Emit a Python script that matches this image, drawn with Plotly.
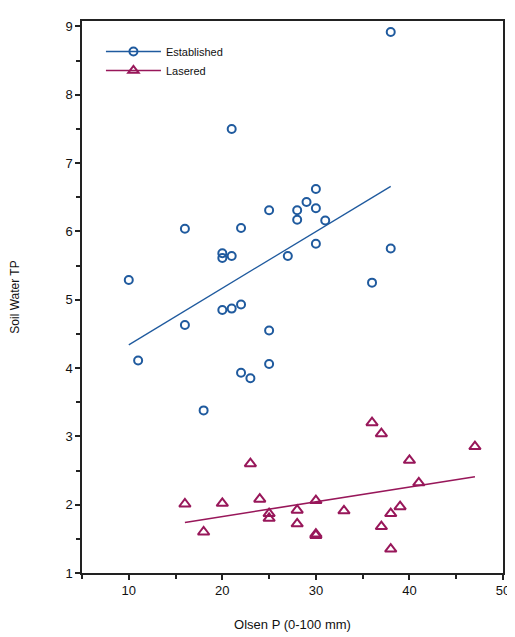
import plotly.graph_objects as go

# ---- data ----
est_x = [10, 11, 16, 16, 18, 20, 20, 20, 21, 21, 21, 22, 22, 22, 23,
         25, 25, 25, 27, 28, 28, 29, 30, 30, 30, 31, 36, 38, 38]
est_y = [5.29, 4.11, 6.04, 4.63, 3.38, 5.68, 5.61, 4.85, 7.50, 5.64, 4.87, 6.05, 4.93, 3.93, 3.85,
         6.31, 4.55, 4.06, 5.64, 6.31, 6.17, 6.43, 6.62, 6.34, 5.82, 6.16, 5.25, 8.92, 5.75]

las_x = [16, 18, 20, 23, 24, 25, 25, 28, 28, 30, 30, 30, 33, 36, 37, 37, 38, 38, 39, 40, 41, 47]
las_y = [2.01, 1.60, 2.02, 2.60, 2.08, 1.87, 1.80, 1.92, 1.72, 2.06, 1.57, 1.55, 1.91, 3.20,
         3.04, 1.68, 1.87, 1.35, 1.97, 2.65, 2.32, 2.85]

# fitted regression lines (end points)
fit_est_x = [10, 38]
fit_est_y = [4.34, 6.66]
fit_las_x = [16, 47]
fit_las_y = [1.74, 2.41]

series_names = ["Established", "Lasered"]
x_ticks = [10, 20, 30, 40, 50]
y_ticks = [1, 2, 3, 4, 5, 6, 7, 8, 9]

BLUE = "#1f5a9e"
RED = "#98175a"
FONT = "Liberation Sans, Arial, sans-serif"

fig = go.Figure()

# regression lines
fig.add_trace(go.Scatter(x=fit_est_x, y=fit_est_y, mode="lines",
                         line=dict(color=BLUE, width=1.3), showlegend=False, hoverinfo="skip"))
fig.add_trace(go.Scatter(x=fit_las_x, y=fit_las_y, mode="lines",
                         line=dict(color=RED, width=1.6), showlegend=False, hoverinfo="skip"))

# points
fig.add_trace(go.Scatter(x=est_x, y=est_y, mode="markers", showlegend=False,
                         marker=dict(symbol="circle-open", size=8, color=BLUE,
                                     line=dict(width=2, color=BLUE))))
fig.add_trace(go.Scatter(x=las_x, y=las_y, mode="markers", showlegend=False,
                         marker=dict(symbol="triangle-up-open", size=10, color=RED,
                                     line=dict(width=2, color=RED))))

# legend-only entries (line + marker)
fig.add_trace(go.Scatter(x=[None], y=[None], mode="lines+markers", name=series_names[0],
                         line=dict(color=BLUE, width=1.5),
                         marker=dict(symbol="circle-open", size=8, color=BLUE,
                                     line=dict(width=2, color=BLUE))))
fig.add_trace(go.Scatter(x=[None], y=[None], mode="lines+markers", name=series_names[1],
                         line=dict(color=RED, width=1.5),
                         marker=dict(symbol="triangle-up-open", size=9, color=RED,
                                     line=dict(width=2, color=RED))))

axis_common = dict(
    showgrid=False, zeroline=False, automargin=False,
    showline=True, linecolor="#222222", linewidth=1.5, mirror=True,
    ticks="outside", ticklen=5, tickwidth=1.5, tickcolor="#222222",
    tickfont=dict(family=FONT, size=13, color="#111111"),
)

fig.update_xaxes(range=[5, 50], tickvals=x_ticks, ticktext=[str(v) for v in x_ticks],
                 minor=dict(dtick=5, tick0=5, ticks="outside", ticklen=4, tickwidth=1.5, tickcolor="#222222"),
                 title=dict(text="Olsen P (0-100 mm)", font=dict(family=FONT, size=13, color="#111111"),
                            standoff=23),
                 **axis_common)
fig.update_yaxes(range=[1, 9.08], tickvals=y_ticks, ticktext=[str(v) for v in y_ticks],
                 minor=dict(dtick=0.5, tick0=1, ticks="outside", ticklen=4, tickwidth=1.5, tickcolor="#222222"),
                 title=dict(text="Soil Water TP", font=dict(family=FONT, size=12, color="#111111"),
                            standoff=43),
                 **axis_common)

# the page body adds an 8 px margin, so the figure is sized/offset to compensate
fig.update_layout(
    width=507, height=629,
    margin=dict(l=74, r=12, t=13, b=64),
    paper_bgcolor="white", plot_bgcolor="white",
    font=dict(family=FONT, size=12, color="#111111"),
    legend=dict(x=0.045, y=0.971, xanchor="left", yanchor="top",
                bgcolor="rgba(0,0,0,0)", itemwidth=55,
                font=dict(family=FONT, size=11, color="#111111"),
                tracegroupgap=0),
    showlegend=True,
)

fig.write_html("out.html")
